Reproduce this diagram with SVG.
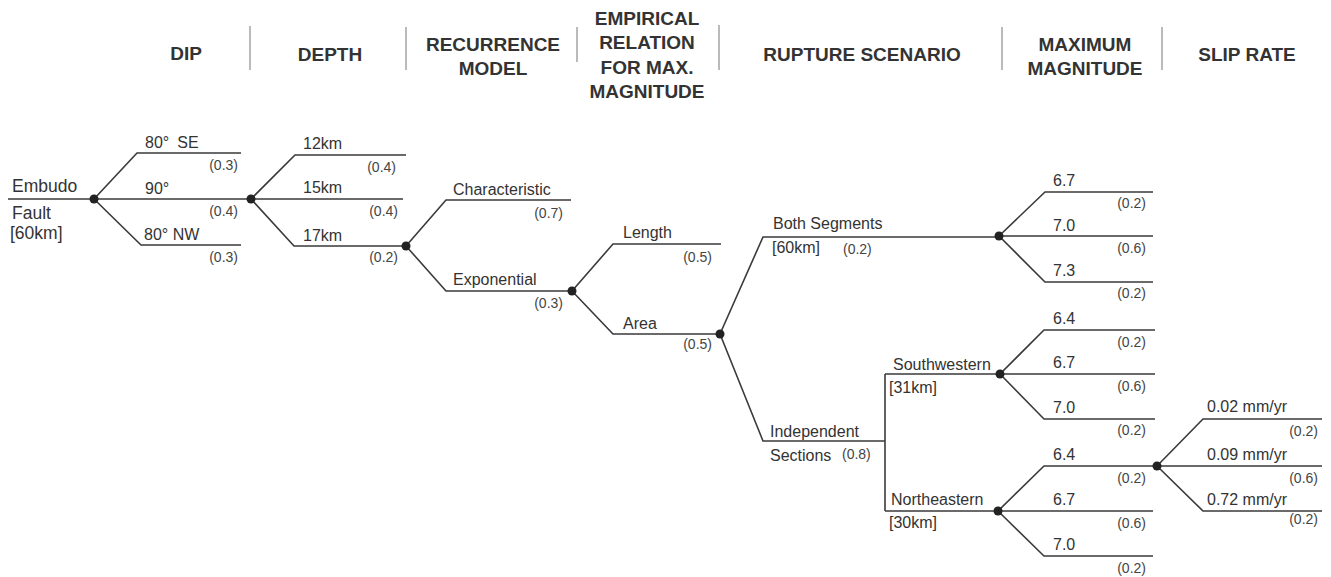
<svg xmlns="http://www.w3.org/2000/svg" width="1331" height="577" viewBox="0 0 1331 577">
<style>
.hd{font-family:"Liberation Sans",Arial,sans-serif;font-size:19px;font-weight:bold;fill:#333;text-anchor:middle}
.lb{font-family:"Liberation Sans",Arial,sans-serif;font-size:16px;fill:#333}
.rt{font-family:"Liberation Sans",Arial,sans-serif;font-size:17.5px;fill:#333}
.pr{font-family:"Liberation Sans",Arial,sans-serif;font-size:14px;fill:#444;text-anchor:end}
.pl{font-family:"Liberation Sans",Arial,sans-serif;font-size:14px;fill:#444}
.sep{stroke:#777;stroke-width:1}
.ln{fill:none;stroke:#3a3a3a;stroke-width:1.6}
.dot{fill:#222}
</style>
<rect width="1331" height="577" fill="#fff"/>
<g id="header">
<text class="hd" x="186" y="60">DIP</text>
<text class="hd" x="330" y="61">DEPTH</text>
<text class="hd" x="493" y="51">RECURRENCE</text>
<text class="hd" x="493" y="75">MODEL</text>
<text class="hd" x="647" y="25">EMPIRICAL</text>
<text class="hd" x="647" y="49">RELATION</text>
<text class="hd" x="647" y="74">FOR MAX.</text>
<text class="hd" x="647" y="98">MAGNITUDE</text>
<text class="hd" x="862" y="61">RUPTURE SCENARIO</text>
<text class="hd" x="1085" y="51">MAXIMUM</text>
<text class="hd" x="1085" y="75">MAGNITUDE</text>
<text class="hd" x="1247" y="61">SLIP RATE</text>
<line class="sep" x1="250" y1="26" x2="250" y2="70"/>
<line class="sep" x1="406" y1="27" x2="406" y2="70"/>
<line class="sep" x1="577" y1="27" x2="577" y2="62"/>
<line class="sep" x1="719" y1="25" x2="719" y2="70"/>
<line class="sep" x1="1002" y1="27" x2="1002" y2="70"/>
<line class="sep" x1="1162" y1="27" x2="1162" y2="70"/>
</g>
<g id="connectors">
<path class="ln" d="M8 199 H94"/>
<path class="ln" d="M94 199 L137 153 H241 M94 199 H251 M94 199 L141 245 H241"/>
<path class="ln" d="M251 199 L295 155 H406 M251 199 H403 M251 199 L294 246 H406"/>
<path class="ln" d="M406 246 L446 200 H571 M406 246 L446 291 H572"/>
<path class="ln" d="M572 291 L613 244 H721 M572 291 L613 334 H720"/>
<path class="ln" d="M720 334 L763 237 H999 M720 334 L763 441 H885 M885 374 V511 M885 374 H1000 M885 511 H998"/>
<path class="ln" d="M999 236 L1045 192 H1153 M999 236 H1153 M999 236 L1045 282 H1153"/>
<path class="ln" d="M1000 374 L1044 330 H1155 M1000 374 H1155 M1000 374 L1044 419 H1155"/>
<path class="ln" d="M998 511 L1044 466 H1157 M998 511 H1153 M998 511 L1044 556 H1153"/>
<path class="ln" d="M1157 466 L1203 419 H1322 M1157 466 H1322 M1157 466 L1203 511 H1322"/>
</g>
<g id="n-root"><text class="rt" x="12" y="192">Embudo</text><text class="rt" x="12" y="219">Fault</text><text class="rt" x="10" y="239">[60km]</text></g>
<g id="c-dip"><circle class="dot" cx="94" cy="199" r="4.5"/></g>
<g id="n-dip-se"><text class="lb" x="145" y="148">80°<tspan dx="8">SE</tspan></text><text class="pr" x="238" y="170">(0.3)</text></g>
<g id="n-dip-90"><text class="lb" x="145" y="194">90°</text><text class="pr" x="238" y="216">(0.4)</text></g>
<g id="n-dip-nw"><text class="lb" x="144" y="240">80° NW</text><text class="pr" x="238" y="262">(0.3)</text></g>
<g id="c-depth"><circle class="dot" cx="251" cy="199" r="4.5"/></g>
<g id="n-d12"><text class="lb" x="303" y="149">12km</text><text class="pr" x="396" y="172">(0.4)</text></g>
<g id="n-d15"><text class="lb" x="303" y="193">15km</text><text class="pr" x="398" y="216">(0.4)</text></g>
<g id="n-d17"><text class="lb" x="303" y="241">17km</text><text class="pr" x="398" y="262">(0.2)</text></g>
<g id="c-rec"><circle class="dot" cx="406" cy="246" r="4.5"/></g>
<g id="n-char"><text class="lb" x="453" y="195">Characteristic</text><text class="pr" x="563" y="218">(0.7)</text></g>
<g id="n-exp"><text class="lb" x="453" y="285">Exponential</text><text class="pr" x="563" y="308">(0.3)</text></g>
<g id="c-emp"><circle class="dot" cx="572" cy="291" r="4.5"/></g>
<g id="n-len"><text class="lb" x="623" y="238">Length</text><text class="pr" x="712" y="262">(0.5)</text></g>
<g id="n-area"><text class="lb" x="623" y="329">Area</text><text class="pr" x="712" y="349">(0.5)</text></g>
<g id="c-rup"><circle class="dot" cx="720" cy="334" r="4.5"/></g>
<g id="n-both"><text class="lb" x="773" y="229">Both Segments</text><text class="lb" x="772" y="253">[60km]</text><text class="pl" x="843" y="254">(0.2)</text></g>
<g id="n-ind"><text class="lb" x="770" y="437">Independent</text><text class="lb" x="770" y="461">Sections</text><text class="pl" x="842" y="459">(0.8)</text></g>
<g id="n-sw"><text class="lb" x="893" y="370">Southwestern</text><text class="lb" x="889" y="393">[31km]</text></g>
<g id="n-ne"><text class="lb" x="891" y="505">Northeastern</text><text class="lb" x="889" y="528">[30km]</text></g>
<g id="c-mag-both"><circle class="dot" cx="999" cy="236" r="4.5"/></g>
<g id="n-mb1"><text class="lb" x="1053" y="186">6.7</text><text class="pr" x="1146" y="208">(0.2)</text></g>
<g id="n-mb2"><text class="lb" x="1053" y="231">7.0</text><text class="pr" x="1146" y="253">(0.6)</text></g>
<g id="n-mb3"><text class="lb" x="1053" y="276">7.3</text><text class="pr" x="1146" y="298">(0.2)</text></g>
<g id="c-mag-sw"><circle class="dot" cx="1000" cy="374" r="4.5"/></g>
<g id="n-ms1"><text class="lb" x="1053" y="324">6.4</text><text class="pr" x="1146" y="347">(0.2)</text></g>
<g id="n-ms2"><text class="lb" x="1053" y="368">6.7</text><text class="pr" x="1146" y="391">(0.6)</text></g>
<g id="n-ms3"><text class="lb" x="1053" y="413">7.0</text><text class="pr" x="1146" y="435">(0.2)</text></g>
<g id="c-mag-ne"><circle class="dot" cx="998" cy="511" r="4.5"/></g>
<g id="n-mn1"><text class="lb" x="1053" y="460">6.4</text><text class="pr" x="1146" y="483">(0.2)</text></g>
<g id="n-mn2"><text class="lb" x="1053" y="505">6.7</text><text class="pr" x="1146" y="528">(0.6)</text></g>
<g id="n-mn3"><text class="lb" x="1053" y="550">7.0</text><text class="pr" x="1146" y="573">(0.2)</text></g>
<g id="c-slip"><circle class="dot" cx="1157" cy="466" r="4.5"/></g>
<g id="n-s1"><text class="lb" x="1207" y="412">0.02 mm/yr</text><text class="pr" x="1318" y="436">(0.2)</text></g>
<g id="n-s2"><text class="lb" x="1207" y="460">0.09 mm/yr</text><text class="pr" x="1318" y="483">(0.6)</text></g>
<g id="n-s3"><text class="lb" x="1207" y="505">0.72 mm/yr</text><text class="pr" x="1318" y="524">(0.2)</text></g>
</svg>
